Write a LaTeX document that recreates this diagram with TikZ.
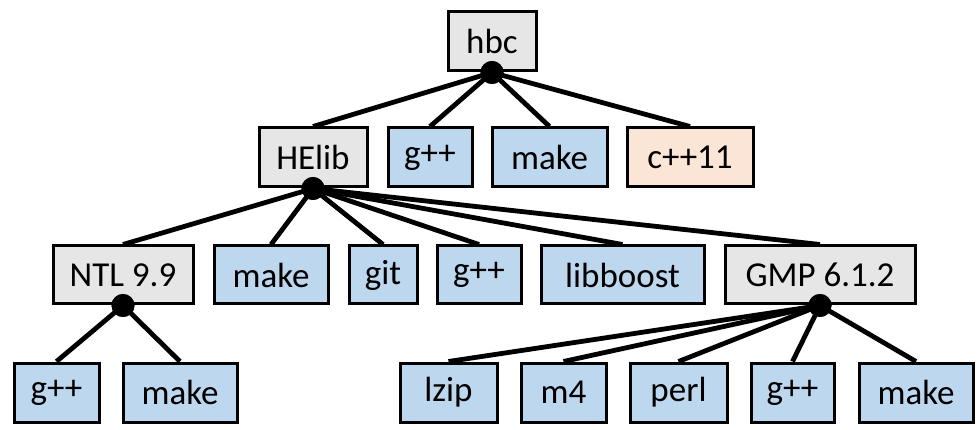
\documentclass[tikz,border=0pt]{standalone}
\usepackage{fontspec}
\setmainfont{Carlito}
\definecolor{greyfill}{HTML}{E7E6E6}
\definecolor{bluefill}{HTML}{BDD7EE}
\definecolor{peachfill}{HTML}{FBE5D6}
\begin{document}
\begin{tikzpicture}[x=1pt,y=-1pt,
  box/.style={draw=black, line width=3pt, rectangle, inner sep=0pt,
    font=\fontsize{35}{40}\selectfont, text=black},
  grey/.style={box, fill=greyfill},
  blue/.style={box, fill=bluefill},
  peach/.style={box, fill=peachfill},
  r1/.style={minimum height=59pt},
  r2/.style={minimum height=59pt},
  r3/.style={minimum height=58pt},
  r4/.style={minimum height=59pt},
  link/.style={line width=4.8pt, black},
  dot/.style={circle, fill=black, inner sep=0pt, minimum size=23pt}]
\useasboundingbox (0,0) rectangle (980,430);
% row 1
\node[grey,r1,minimum width=88pt] (hbc) at (492,41.5) {hbc};
% row 2
\node[grey,r2,minimum width=108pt] (helib) at (313,157.5) {HElib};
\node[blue,r2,minimum width=84pt] (gpp1) at (430,157.5) {g++};
\node[blue,r2,minimum width=115pt] (make1) at (549.5,157.5) {make};
\node[peach,r2,minimum width=126pt] (cpp) at (690,157.5) {c++11};
% row 3
\node[grey,r3,minimum width=140pt] (ntl) at (123,275) {NTL 9.9};
\node[blue,r3,minimum width=114pt] (make2) at (271,275) {make};
\node[blue,r3,minimum width=68pt] (git) at (383,275) {git};
\node[blue,r3,minimum width=84pt] (gpp2) at (479,275) {g++};
\node[blue,r3,minimum width=163pt] (boost) at (622.5,275) {libboost};
\node[grey,r3,minimum width=190pt] (gmp) at (820,275) {GMP 6.1.2};
% row 4
\node[blue,r4,minimum width=85pt] (gpp3) at (56.5,392.5) {g++};
\node[blue,r4,minimum width=114pt] (make3) at (180,392.5) {make};
\node[blue,r4,minimum width=97pt] (lzip) at (448.5,392.5) {lzip};
\node[blue,r4,minimum width=85pt] (m4) at (563.5,392.5) {m4};
\node[blue,r4,minimum width=97pt] (perl) at (678.5,392.5) {perl};
\node[blue,r4,minimum width=83pt] (gpp4) at (792.5,392.5) {g++};
\node[blue,r4,minimum width=114pt] (make4) at (916,392.5) {make};
% dots
\node[dot] (dhbc) at (hbc.south) {};
\node[dot] (dhelib) at (helib.south) {};
\node[dot] (dntl) at (ntl.south) {};
\node[dot] (dgmp) at (gmp.south) {};
% links
\foreach \c in {helib,gpp1,make1,cpp} \draw[link] (dhbc.center) -- (\c.north);
\foreach \c in {ntl,make2,git,gpp2,boost,gmp} \draw[link] (dhelib.center) -- (\c.north);
\foreach \c in {gpp3,make3} \draw[link] (dntl.center) -- (\c.north);
\foreach \c in {lzip,m4,perl,gpp4,make4} \draw[link] (dgmp.center) -- (\c.north);
% redraw dots on top
\foreach \d in {dhbc,dhelib,dntl,dgmp} \fill[black] (\d.center) circle (11.5pt);
\end{tikzpicture}
\end{document}
